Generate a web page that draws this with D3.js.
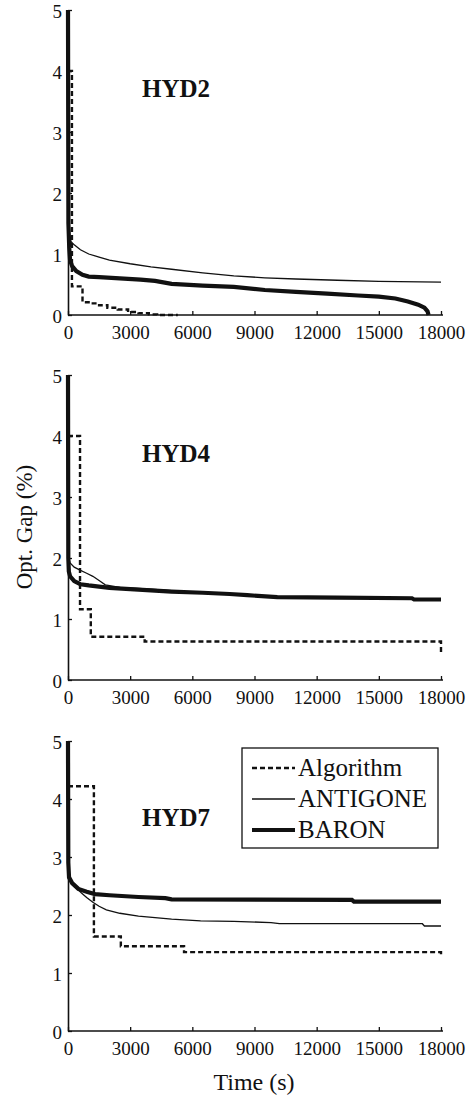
<!DOCTYPE html>
<html>
<head>
<meta charset="utf-8">
<script src="https://cdn.jsdelivr.net/npm/d3@7"></script>
<style>
  html, body { margin: 0; padding: 0; background: #fff; }
  svg { display: block; }
  text { font-family: "Liberation Serif", "Times New Roman", serif; fill: #111; }
</style>
</head>
<body>
<svg id="chart" width="473" height="1096"></svg>
<script>
// ---- Data (time in seconds, optimality gap in %) ----
const panelNames = ["HYD2", "HYD4", "HYD7"];
const seriesNames = ["Algorithm", "ANTIGONE", "BARON"];
const xTicks = [0, 3000, 6000, 9000, 12000, 15000, 18000];
const yTicks = [0, 1, 2, 3, 4, 5];

const hyd2Algorithm = [[0,4.0],[190,0.47],[700,0.21],[1100,0.19],[1500,0.16],[1900,0.12],[2400,0.09],[2900,0.05],[3400,0.03],[3900,0.01],[4300,0],[5300,0]];
const hyd2Antigone = [[0,1.45],[60,1.3],[150,1.2],[300,1.15],[600,1.07],[1000,1.0],[1500,0.95],[2000,0.9],[3000,0.84],[4000,0.79],[5000,0.75],[6500,0.69],[8000,0.64],[9500,0.61],[11000,0.59],[13000,0.57],[15000,0.55],[18000,0.54]];
const hyd2Baron = [[0,5.0],[20,1.5],[60,1.1],[100,0.9],[200,0.8],[400,0.72],[700,0.66],[1000,0.63],[1500,0.62],[2500,0.6],[3500,0.58],[4200,0.56],[5000,0.51],[6500,0.48],[8000,0.46],[9500,0.41],[11000,0.38],[12500,0.35],[14000,0.32],[15000,0.30],[15800,0.27],[16400,0.22],[16900,0.17],[17200,0.12],[17350,0.06],[17400,0]];

const hyd4Algorithm = [[0,4.0],[580,1.16],[1100,0.71],[3700,0.63],[18000,0.63],[18000,0.46]];
const hyd4Antigone = [[0,2.05],[100,1.92],[300,1.85],[580,1.8],[900,1.75],[1200,1.7],[1500,1.63],[1800,1.56],[2500,1.52],[4000,1.49],[6000,1.44],[8000,1.41],[10000,1.37],[14000,1.35],[17000,1.33],[18000,1.32]];
const hyd4Baron = [[0,5.0],[15,2.0],[40,1.78],[100,1.7],[300,1.62],[600,1.57],[1000,1.55],[1500,1.53],[2000,1.51],[3000,1.49],[4000,1.47],[5000,1.45],[6500,1.43],[7800,1.41],[8650,1.39],[10100,1.36],[13000,1.35],[16600,1.34],[16700,1.32],[18000,1.32]];

const hyd7Algorithm = [[0,4.22],[1250,1.63],[2550,1.46],[5600,1.36],[18000,1.36],[18000,1.29]];
const hyd7Antigone = [[0,2.9],[30,2.65],[200,2.55],[400,2.47],[650,2.38],[900,2.3],[1200,2.22],[1500,2.15],[1850,2.09],[2500,2.03],[3400,1.98],[5000,1.93],[6400,1.9],[8000,1.89],[9800,1.87],[10200,1.85],[17100,1.85],[17200,1.81],[18000,1.81]];
const hyd7Baron = [[0,5.0],[15,2.9],[50,2.65],[200,2.55],[500,2.45],[900,2.4],[1300,2.36],[2000,2.34],[3400,2.31],[4700,2.29],[5000,2.27],[13700,2.26],[13800,2.23],[18000,2.23]];

const panelData = [
  [hyd2Algorithm, hyd2Antigone, hyd2Baron],
  [hyd4Algorithm, hyd4Antigone, hyd4Baron],
  [hyd7Algorithm, hyd7Antigone, hyd7Baron]
];

// ---- Layout ----
const svg = d3.select("#chart");
const xLeft = 68, xRight = 441;
const panelY = [[315, 10], [680, 375], [1031, 741]]; // [y at 0, y at 5]

const styles = [
  { width: 2.4, dash: "5,3", curve: d3.curveStepAfter },
  { width: 1.3, dash: null, curve: d3.curveLinear },
  { width: 4.2, dash: null, curve: d3.curveLinear }
];

const x = d3.scaleLinear().domain([0, 18000]).range([xLeft, xRight]);

panelNames.forEach((name, i) => {
  const y = d3.scaleLinear().domain([0, 5]).range(panelY[i]);
  const g = svg.append("g");

  [2, 1, 0].forEach(s => {
    const st = styles[s];
    const line = d3.line().x(d => x(d[0])).y(d => y(d[1])).curve(st.curve);
    g.append("path")
      .datum(panelData[i][s])
      .attr("d", line)
      .attr("fill", "none")
      .attr("stroke", "#111")
      .attr("stroke-width", st.width)
      .attr("stroke-dasharray", st.dash)
      .attr("stroke-linejoin", "miter");
  });

  const xAxis = d3.axisBottom(x).tickValues(xTicks).tickFormat(d3.format("d"))
    .tickSizeInner(-4).tickSizeOuter(0).tickPadding(11);
  const yAxis = d3.axisLeft(y).tickValues(yTicks).tickFormat(d3.format("d"))
    .tickSizeInner(-4).tickSizeOuter(0).tickPadding(6);

  const gx = g.append("g").attr("transform", `translate(0,${panelY[i][0]})`).call(xAxis);
  const gy = g.append("g").attr("transform", `translate(${xLeft},0)`).call(yAxis);
  gx.select(".domain").attr("d", `M0,0H${xRight + 2 - xLeft}`).attr("transform", `translate(${xLeft},0)`);
  [gx, gy].forEach(a => {
    a.select(".domain").attr("stroke", "#111").attr("stroke-width", 1.6);
    a.selectAll(".tick line").attr("stroke", "#111").attr("stroke-width", 1.3);
    a.selectAll(".tick text").attr("font-size", 19).attr("font-family", "Liberation Serif").attr("fill", "#111");
  });
  gy.selectAll(".tick text").attr("dy", "0.4em");

  g.append("text")
    .attr("x", 142).attr("y", panelY[i][0] - (i === 2 ? 205 : 218))
    .attr("font-size", 25).attr("font-weight", "bold")
    .text(name);
});

// y-axis label
svg.append("text")
  .attr("transform", "translate(32,527) rotate(-90)")
  .attr("text-anchor", "middle")
  .attr("font-size", 23)
  .text("Opt. Gap (%)");

// x-axis label
svg.append("text")
  .attr("x", 254).attr("y", 1090)
  .attr("text-anchor", "middle")
  .attr("font-size", 24)
  .text("Time (s)");

// legend
const leg = svg.append("g");
leg.append("rect").attr("x", 242).attr("y", 748).attr("width", 196).attr("height", 100)
  .attr("fill", "#fff").attr("stroke", "#111").attr("stroke-width", 1.3);
const legY = [768, 799, 830];
seriesNames.forEach((n, s) => {
  leg.append("line").attr("x1", 252).attr("x2", 295).attr("y1", legY[s]).attr("y2", legY[s])
    .attr("stroke", "#111").attr("stroke-width", styles[s].width).attr("stroke-dasharray", styles[s].dash);
  leg.append("text").attr("x", 298).attr("y", legY[s] + 8).attr("font-size", 25).text(n);
});
</script>
</body>
</html>
